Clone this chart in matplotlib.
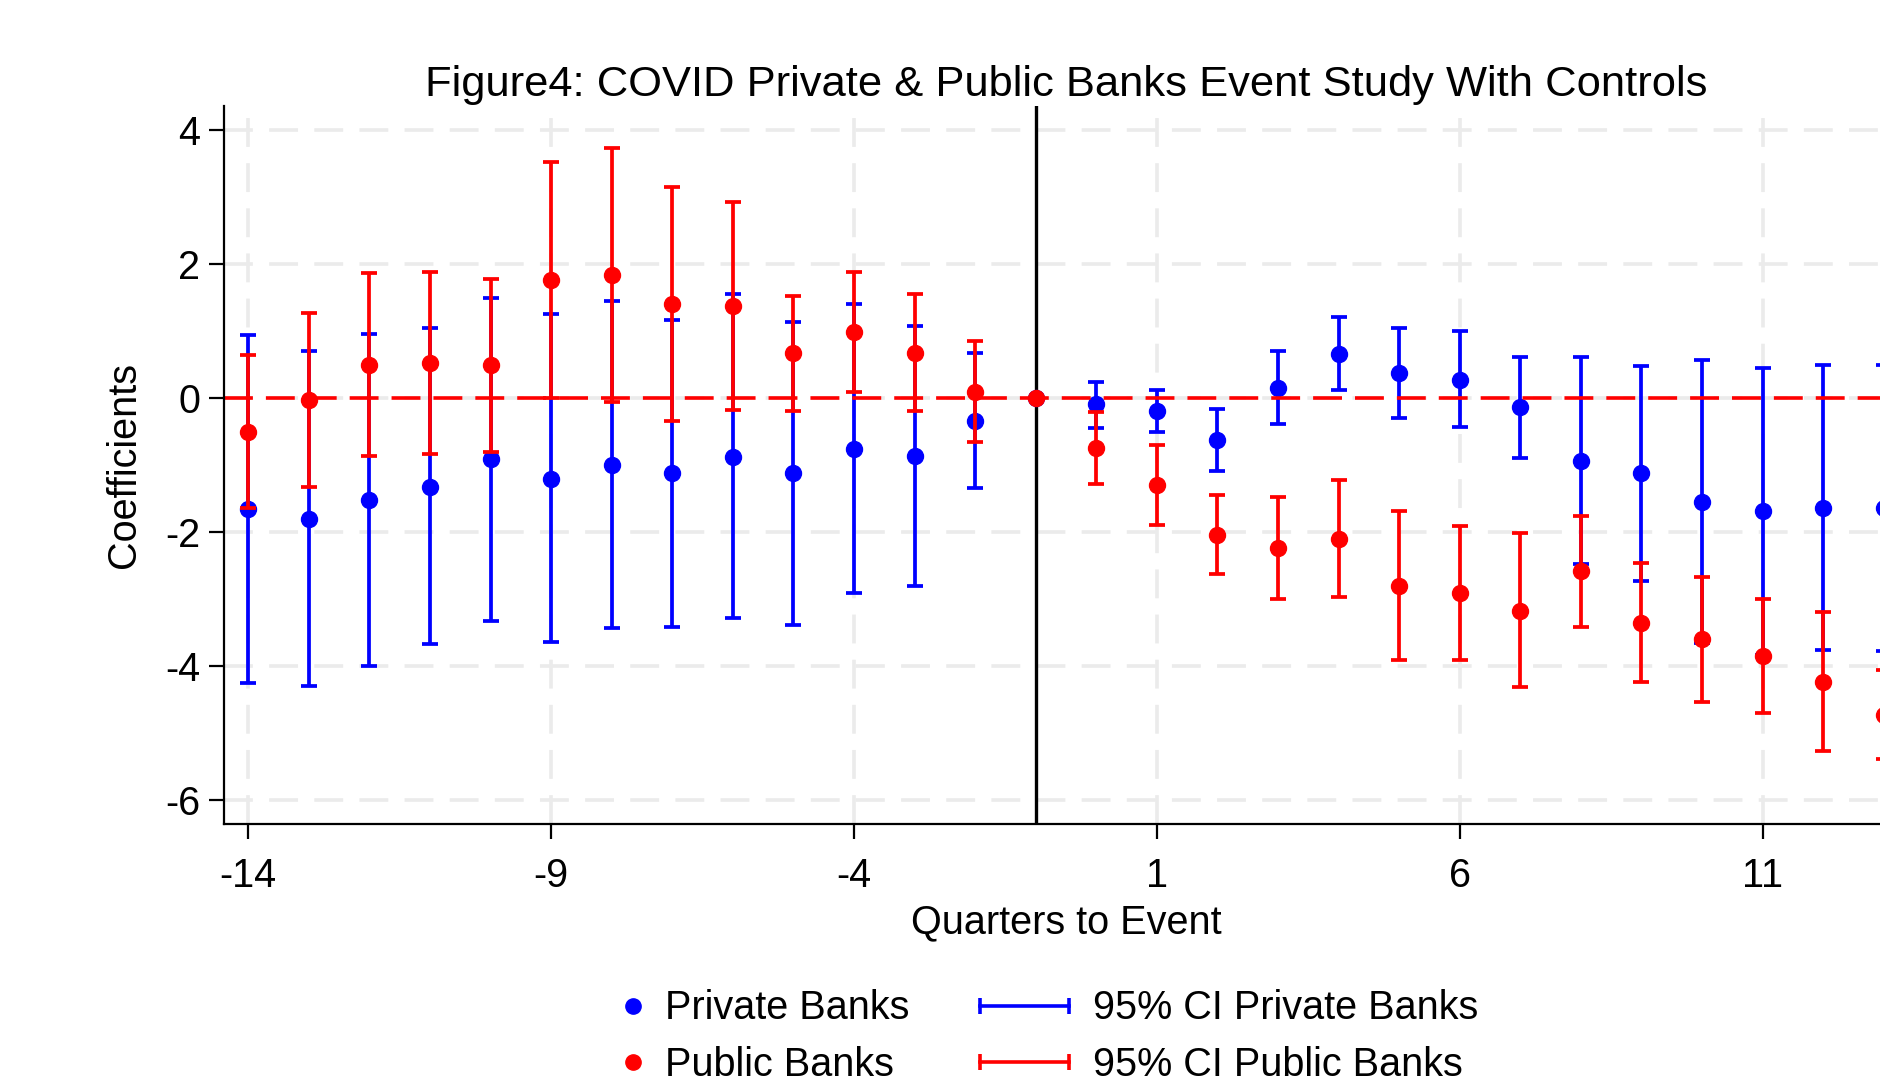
import matplotlib
matplotlib.use("Agg")
import matplotlib.pyplot as plt
from matplotlib.lines import Line2D
from matplotlib.legend_handler import HandlerBase
import numpy as np

plt.rcParams['font.family'] = ['Liberation Sans', 'DejaVu Sans']
plt.rcParams['axes.unicode_minus'] = False

# Quarters relative to the event (reference quarter -1 normalised to zero)
quarters = list(range(-14, 14))

# Private banks: point estimates and 95% CI bounds
priv_coef = [-1.67, -1.81, -1.53, -1.33, -0.92, -1.21, -1.00, -1.13, -0.88, -1.13, -0.76, -0.87, -0.35, 0.00,
             -0.10, -0.20, -0.63, 0.15, 0.65, 0.37, 0.27, -0.14, -0.95, -1.13, -1.56, -1.70, -1.65, -1.65]
priv_lo = [-4.26, -4.31, -4.01, -3.68, -3.34, -3.65, -3.44, -3.42, -3.29, -3.39, -2.92, -2.81, -1.35, 0.00,
           -0.45, -0.51, -1.09, -0.39, 0.11, -0.30, -0.44, -0.90, -2.48, -2.73, -3.66, -3.84, -3.77, -3.78]
priv_hi = [0.93, 0.70, 0.95, 1.04, 1.49, 1.25, 1.44, 1.16, 1.55, 1.13, 1.40, 1.07, 0.66, 0.00,
           0.24, 0.11, -0.17, 0.70, 1.21, 1.04, 0.99, 0.61, 0.60, 0.47, 0.56, 0.44, 0.48, 0.48]

# Public banks: point estimates and 95% CI bounds
pub_coef = [-0.51, -0.04, 0.49, 0.51, 0.48, 1.75, 1.83, 1.40, 1.37, 0.66, 0.98, 0.66, 0.09, 0.00,
            -0.75, -1.30, -2.05, -2.25, -2.11, -2.81, -2.92, -3.18, -2.59, -3.36, -3.61, -3.86, -4.24, -4.74]
pub_lo = [-1.65, -1.34, -0.87, -0.84, -0.81, -0.01, -0.07, -0.35, -0.18, -0.20, 0.09, -0.20, -0.66, 0.00,
          -1.29, -1.90, -2.64, -3.00, -2.98, -3.92, -3.92, -4.32, -3.42, -4.25, -4.55, -4.71, -5.27, -5.39]
pub_hi = [0.64, 1.26, 1.86, 1.88, 1.77, 3.51, 3.73, 3.15, 2.92, 1.52, 1.88, 1.54, 0.84, 0.00,
          -0.21, -0.71, -1.46, -1.49, -1.23, -1.69, -1.91, -2.02, -1.76, -2.47, -2.68, -3.00, -3.20, -4.07]

x_ticks = [-14, -9, -4, 1, 6, 11]
y_ticks = [-6, -4, -2, 0, 2, 4]

BLUE = "#0000ff"
RED = "#ff0000"
GRID = "#ebebeb"
FS = 28.5

fig = plt.figure(figsize=(18.8, 10.78), dpi=100)
ax = fig.add_axes([0.11915, 0.2359, 0.89574, 0.66623])

x = np.array(quarters, dtype=float)
pc, pl, ph = map(np.array, (priv_coef, priv_lo, priv_hi))
uc, ul, uh = map(np.array, (pub_coef, pub_lo, pub_hi))

common = dict(fmt='o', ms=11.5, elinewidth=2.7, capsize=5.8, capthick=2.7)
ax.errorbar(x, pc, yerr=[pc - pl, ph - pc], color=BLUE, zorder=2, **common)
ax.axhline(0, color=RED, lw=2.6, dashes=(8, 3.6), zorder=2.5)
ax.errorbar(x, uc, yerr=[uc - ul, uh - uc], color=RED, zorder=3, **common)
ax.axvline(-1, color='black', lw=2.4, zorder=1.5)

ax.set_xlim(-14.4, 13.4)
ax.set_ylim(-6.36, 4.36)
ax.set_xticks(x_ticks)
ax.set_yticks(y_ticks)
ax.set_xticklabels([str(v) for v in x_ticks])
ax.set_yticklabels([str(v) for v in y_ticks])
ax.grid(True, color=GRID, lw=2.6, dashes=(8, 4.5), zorder=0)
ax.set_axisbelow(True)

for s in ('top', 'right'):
    ax.spines[s].set_visible(False)
for s in ('left', 'bottom'):
    ax.spines[s].set_linewidth(1.6)
ax.tick_params(axis='both', length=11, width=1.6, labelsize=FS, direction='out')
ax.tick_params(axis='x', pad=13)
ax.tick_params(axis='y', pad=6)

ax.set_title("Figure4: COVID Private & Public Banks Event Study With Controls",
             fontsize=31.3, pad=7)
ax.set_xlabel("Quarters to Event", fontsize=FS, labelpad=6)
ax.set_ylabel("Coefficients", fontsize=FS, labelpad=16)


class DotHandler(HandlerBase):
    def create_artists(self, legend, orig_handle, xdescent, ydescent,
                       width, height, fontsize, trans):
        cx = -xdescent + width - 6
        cy = -ydescent + height / 2
        m = Line2D([cx], [cy], marker='o', ms=11, color=orig_handle.get_color(),
                   linestyle='none', transform=trans)
        return [m]


class CapLineHandler(HandlerBase):
    def create_artists(self, legend, orig_handle, xdescent, ydescent,
                       width, height, fontsize, trans):
        cy = -ydescent + height / 2
        x0, x1 = -xdescent, -xdescent + width
        ln = Line2D([x0, x1], [cy, cy], color=orig_handle.get_color(), lw=2.6,
                    marker='|', ms=12, mew=2.6, transform=trans)
        return [ln]


class CIKey(Line2D):
    pass


h_priv = Line2D([], [], color=BLUE)
h_pub = Line2D([], [], color=RED)
ci_priv = CIKey([], [], color=BLUE)
ci_pub = CIKey([], [], color=RED)

leg = fig.legend([h_priv, h_pub, ci_priv, ci_pub],
                 ["Private Banks", "Public Banks", "95% CI Private Banks", "95% CI Public Banks"],
                 ncol=2, loc='center', bbox_to_anchor=(0.540, 0.0383),
                 frameon=False, fontsize=FS, handlelength=2.25, handletextpad=0.6,
                 columnspacing=1.8, labelspacing=0.47,
                 handler_map={CIKey: CapLineHandler(), Line2D: DotHandler()})

fig.savefig("out.png", dpi=100)
